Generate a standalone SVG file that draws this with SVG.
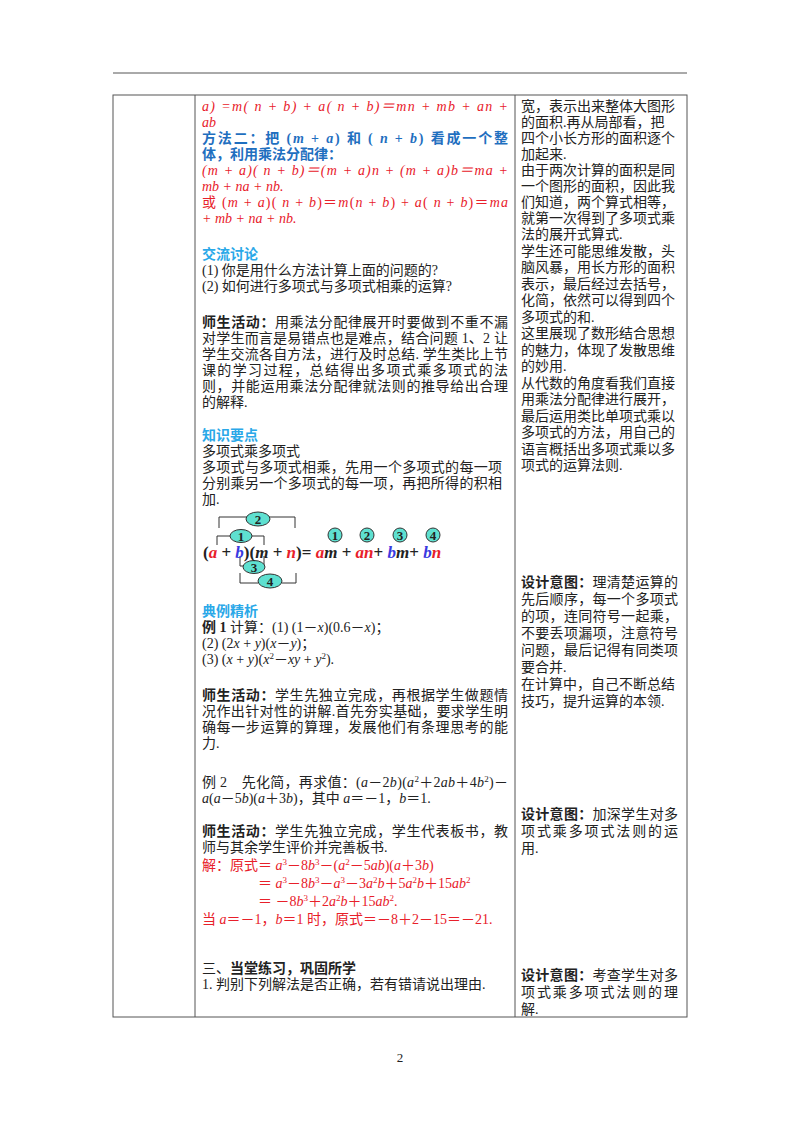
<svg xmlns="http://www.w3.org/2000/svg" width="800" height="1132" viewBox="0 0 800 1132">
<style>
text{font-family:"Liberation Serif","Noto Sans CJK SC",serif;font-size:14px;fill:#222}
.r{fill:#e8202a}.b{fill:#1f6fbf;font-weight:bold}.c{fill:#2aa8e8;font-weight:bold}.k{font-weight:bold}
.i{font-style:italic}
.ln{stroke:#555;stroke-width:1;fill:none}
.br{stroke:#333;stroke-width:1;fill:none}
.ov{fill:#5ee0d0;stroke:#333;stroke-width:1}
.n{font-size:13px;font-weight:bold;text-anchor:middle}
</style>
<rect width="800" height="1132" fill="#fff"/>
<g id="frame">
<line class="ln" x1="113" y1="73" x2="687" y2="73"/>
<rect class="ln" x="113" y="95" width="574" height="922"/>
<line class="ln" x1="195" y1="95" x2="195" y2="1017"/>
<line class="ln" x1="515" y1="95" x2="515" y2="1017"/>
</g>
<g id="left">
<text class="r i" x="202" y="111" textLength="306">a)  =m(  n  +  b) +  a(  n  +  b)＝mn  +  mb  +  an  +</text>
<text class="r i" x="202" y="127">ab</text>
<text class="b" x="202" y="143" textLength="306">方法二：把 (<tspan class="i">m</tspan>  +  <tspan class="i">a</tspan>) 和 (  <tspan class="i">n</tspan>  +  <tspan class="i">b</tspan>) 看成一个整</text>
<text class="b" x="202" y="159">体，利用乘法分配律：</text>
<text class="r i" x="202" y="175" textLength="306">(m  +  a)(  n  +  b)＝(m  +  a)n  + (m  +  a)b＝ma  +</text>
<text class="r i" x="202" y="191">mb  +  na  +  nb.</text>
<text class="r" x="202" y="207" textLength="306">或 (<tspan class="i">m</tspan>  +  <tspan class="i">a</tspan>)(  <tspan class="i">n</tspan>  +  <tspan class="i">b</tspan>)＝<tspan class="i">m</tspan>(<tspan class="i">n</tspan>  +  <tspan class="i">b</tspan>) +  <tspan class="i">a</tspan>(  <tspan class="i">n</tspan>  +  <tspan class="i">b</tspan>)＝<tspan class="i">ma</tspan></text>
<text class="r i" x="202" y="223">+  mb  +  na  +  nb.</text>
<text class="c" x="202" y="259">交流讨论</text>
<text x="202" y="275">(1) 你是用什么方法计算上面的问题的?</text>
<text x="202" y="291">(2) 如何进行多项式与多项式相乘的运算?</text>
<text x="202" y="327" textLength="306"><tspan class="k">师生活动：</tspan>用乘法分配律展开时要做到不重不漏</text>
<text x="202" y="343" textLength="306">对学生而言是易错点也是难点，结合问题 1、2 让</text>
<text x="202" y="359" textLength="306">学生交流各自方法，进行及时总结. 学生类比上节</text>
<text x="202" y="375" textLength="306">课的学习过程，总结得出多项式乘多项式的法</text>
<text x="202" y="391" textLength="306">则，并能运用乘法分配律就法则的推导给出合理</text>
<text x="202" y="407">的解释.</text>
<text class="c" x="202" y="440">知识要点</text>
<text x="202" y="456">多项式乘多项式</text>
<text x="202" y="472" textLength="300">多项式与多项式相乘，先用一个多项式的每一项</text>
<text x="202" y="488" textLength="300">分别乘另一个多项式的每一项，再把所得的积相</text>
<text x="202" y="504">加.</text>
<text class="c" x="202" y="616">典例精析</text>
<text x="202" y="632"><tspan class="k">例 1</tspan>  计算：(1) (1－<tspan class="i">x</tspan>)(0.6－<tspan class="i">x</tspan>)；</text>
<text x="202" y="648">(2)  (2<tspan class="i">x</tspan>  +  <tspan class="i">y</tspan>)(<tspan class="i">x</tspan>－<tspan class="i">y</tspan>)；</text>
<text x="202" y="664">(3)  (<tspan class="i">x</tspan>  +  <tspan class="i">y</tspan>)(<tspan class="i">x</tspan><tspan font-size="9" dy="-5">2</tspan><tspan dy="5">－</tspan><tspan class="i">xy</tspan>  +  <tspan class="i">y</tspan><tspan font-size="9" dy="-5">2</tspan><tspan dy="5">).</tspan></text>
<text x="202" y="700" textLength="306"><tspan class="k">师生活动：</tspan>学生先独立完成，再根据学生做题情</text>
<text x="202" y="716" textLength="306">况作出针对性的讲解.首先夯实基础，要求学生明</text>
<text x="202" y="732" textLength="306">确每一步运算的算理，发展他们有条理思考的能</text>
<text x="202" y="748">力.</text>
<text x="202" y="787" textLength="306">例 2　先化简，再求值：(<tspan class="i">a</tspan>－2<tspan class="i">b</tspan>)(<tspan class="i">a</tspan><tspan font-size="9" dy="-5">2</tspan><tspan dy="5">＋2</tspan><tspan class="i">ab</tspan>＋4<tspan class="i">b</tspan><tspan font-size="9" dy="-5">2</tspan><tspan dy="5">)－</tspan></text>
<text x="202" y="803"><tspan class="i">a</tspan>(<tspan class="i">a</tspan>－5<tspan class="i">b</tspan>)(<tspan class="i">a</tspan>＋3<tspan class="i">b</tspan>)，其中 <tspan class="i">a</tspan>＝－1，<tspan class="i">b</tspan>＝1.</text>
<text x="202" y="836" textLength="306"><tspan class="k">师生活动：</tspan>学生先独立完成，学生代表板书，教</text>
<text x="202" y="852">师与其余学生评价并完善板书.</text>
<text class="r" x="202" y="870">解：原式＝ <tspan class="i">a</tspan><tspan font-size="9" dy="-5">3</tspan><tspan dy="5">－8</tspan><tspan class="i">b</tspan><tspan font-size="9" dy="-5">3</tspan><tspan dy="5">－(</tspan><tspan class="i">a</tspan><tspan font-size="9" dy="-5">2</tspan><tspan dy="5">－5</tspan><tspan class="i">ab</tspan>)(<tspan class="i">a</tspan>＋3<tspan class="i">b</tspan>)</text>
<text class="r" x="258" y="888">＝ <tspan class="i">a</tspan><tspan font-size="9" dy="-5">3</tspan><tspan dy="5">－8</tspan><tspan class="i">b</tspan><tspan font-size="9" dy="-5">3</tspan><tspan dy="5">－</tspan><tspan class="i">a</tspan><tspan font-size="9" dy="-5">3</tspan><tspan dy="5">－3</tspan><tspan class="i">a</tspan><tspan font-size="9" dy="-5">2</tspan><tspan dy="5" class="i">b</tspan>＋5<tspan class="i">a</tspan><tspan font-size="9" dy="-5">2</tspan><tspan dy="5" class="i">b</tspan>＋15<tspan class="i">ab</tspan><tspan font-size="9" dy="-5">2</tspan></text>
<text class="r" x="258" y="906">＝ －8<tspan class="i">b</tspan><tspan font-size="9" dy="-5">3</tspan><tspan dy="5">＋2</tspan><tspan class="i">a</tspan><tspan font-size="9" dy="-5">2</tspan><tspan dy="5" class="i">b</tspan>＋15<tspan class="i">ab</tspan><tspan font-size="9" dy="-5">2</tspan><tspan dy="5">.</tspan></text>
<text class="r" x="202" y="924">当 <tspan class="i">a</tspan>＝－1，<tspan class="i">b</tspan>＝1 时，原式＝－8＋2－15＝－21.</text>
<text x="202" y="973">三、<tspan class="k">当堂练习，巩固所学</tspan></text>
<text x="202" y="989">1. 判别下列解法是否正确，若有错请说出理由.</text>
</g>
<g id="figure">
<path class="br" d="M219,528 V517 H247 M269,517 H295 V528"/>
<path class="br" d="M217,545 V536 H230 M252,536 H264 V545"/>
<path class="br" d="M240,556 V566 H243 M265,566 H264 V556"/>
<path class="br" d="M240,573 V583 H258 M282,583 H296 V573"/>
<ellipse class="ov" cx="258" cy="519" rx="12" ry="7"/><text class="n" x="258" y="524">2</text>
<ellipse class="ov" cx="241" cy="536" rx="11" ry="6.5"/><text class="n" x="241" y="541">1</text>
<ellipse class="ov" cx="254" cy="567" rx="11" ry="6.5"/><text class="n" x="254" y="572">3</text>
<ellipse class="ov" cx="270" cy="581" rx="12" ry="7"/><text class="n" x="270" y="586">4</text>
<circle class="ov" cx="335" cy="535" r="7"/><text class="n" x="335" y="540">1</text>
<circle class="ov" cx="367" cy="535" r="7"/><text class="n" x="367" y="540">2</text>
<circle class="ov" cx="400" cy="535" r="7"/><text class="n" x="400" y="540">3</text>
<circle class="ov" cx="433" cy="535" r="7"/><text class="n" x="433" y="540">4</text>
<text x="203" y="558" style="font-size:17px;font-weight:bold">(<tspan class="r i">a</tspan> + <tspan class="i" fill="#3a3ae0">b</tspan>)(<tspan class="i">m</tspan> + <tspan class="r i">n</tspan>)= <tspan class="r i">a</tspan><tspan class="i">m</tspan> + <tspan class="r i">an</tspan>+ <tspan class="i" fill="#3a3ae0">b</tspan><tspan class="i">m</tspan>+ <tspan class="i" fill="#3a3ae0">b</tspan><tspan class="r i">n</tspan></text>
</g>
<g id="right">
<text x="521" y="111">宽，表示出来整体大图形</text>
<text x="521" y="127">的面积.再从局部看，把</text>
<text x="521" y="143">四个小长方形的面积逐个</text>
<text x="521" y="159">加起来.</text>
<text x="521" y="175">由于两次计算的面积是同</text>
<text x="521" y="191">一个图形的面积，因此我</text>
<text x="521" y="207">们知道，两个算式相等，</text>
<text x="521" y="223">就第一次得到了多项式乘</text>
<text x="521" y="239">法的展开式算式.</text>
<text x="521" y="255.5">学生还可能思维发散，头</text>
<text x="521" y="272">脑风暴，用长方形的面积</text>
<text x="521" y="288.5">表示，最后经过去括号，</text>
<text x="521" y="305">化简，依然可以得到四个</text>
<text x="521" y="321.5">多项式的和.</text>
<text x="521" y="338">这里展现了数形结合思想</text>
<text x="521" y="354.5">的魅力，体现了发散思维</text>
<text x="521" y="371">的妙用.</text>
<text x="521" y="387.5">从代数的角度看我们直接</text>
<text x="521" y="404">用乘法分配律进行展开，</text>
<text x="521" y="420.5">最后运用类比单项式乘以</text>
<text x="521" y="437">多项式的方法，用自己的</text>
<text x="521" y="453.5">语言概括出多项式乘以多</text>
<text x="521" y="470">项式的运算法则.</text>
<text x="521" y="587" textLength="157"><tspan class="k">设计意图：</tspan>理清楚运算的</text>
<text x="521" y="604" textLength="157">先后顺序，每一个多项式</text>
<text x="521" y="621" textLength="157">的项，连同符号一起乘，</text>
<text x="521" y="638" textLength="157">不要丢项漏项，注意符号</text>
<text x="521" y="655" textLength="157">问题，最后记得有同类项</text>
<text x="521" y="672">要合并.</text>
<text x="521" y="689">在计算中，自己不断总结</text>
<text x="521" y="706">技巧，提升运算的本领.</text>
<text x="521" y="819" textLength="157"><tspan class="k">设计意图：</tspan>加深学生对多</text>
<text x="521" y="836" textLength="157">项式乘多项式法则的运</text>
<text x="521" y="853">用.</text>
<text x="521" y="980" textLength="157"><tspan class="k">设计意图：</tspan>考查学生对多</text>
<text x="521" y="997" textLength="157">项式乘多项式法则的理</text>
<text x="521" y="1014">解.</text>
</g>
<text x="400" y="1062" style="font-size:13px" text-anchor="middle">2</text>
</svg>
